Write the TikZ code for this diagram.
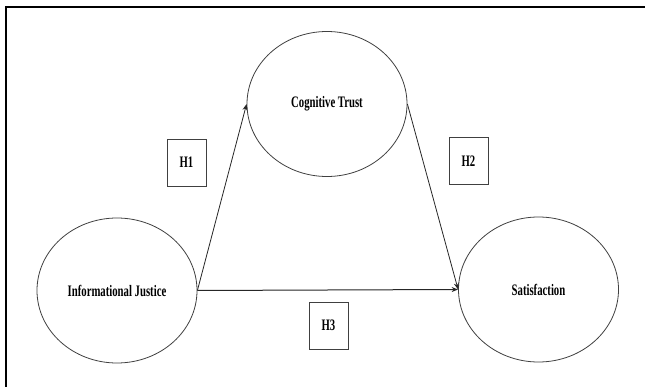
\documentclass[tikz,border=0pt]{standalone}
\usepackage{fontspec}
\usetikzlibrary{shapes.geometric,arrows.meta}
\newfontfamily\condfont[FakeStretch=0.67]{Liberation Serif}
\begin{document}
\begin{tikzpicture}[x=1pt,y=-1pt,
  latent/.style={ellipse,draw=black!75,line width=0.8pt,minimum width=160pt,minimum height=145pt,inner sep=0pt,
    font=\condfont\bfseries\fontsize{16}{19}\selectfont},
  hypbox/.style={rectangle,draw=black!75,line width=0.8pt,minimum width=39pt,minimum height=47pt,inner sep=0pt,
    font=\condfont\bfseries\fontsize{16}{19}\selectfont},
  path/.style={draw=black!85,line width=0.8pt,-{Stealth[length=6.5pt,width=5pt]}}]
\useasboundingbox (0,0) rectangle (645,387);
\fill[white] (0,0) rectangle (645,387);
\coordinate (fa) at (6,387);
\coordinate (fb) at (6,7);
\coordinate (fc) at (645,7);
\draw[line width=2.4pt,line cap=rect] (fa) -- (fb) -- (fc);
\node[latent] (ct) at (327,104) {Cognitive Trust};
\node[latent] (ij) at (117,290.5) {Informational Justice};
\node[latent] (sat) at (538.5,289.5) {Satisfaction};
\node[hypbox] (h1) at (186.5,162.5) {H1};
\node[hypbox] (h2) at (468.5,161) {H2};
\node[hypbox] (h3) at (328.5,325.5) {H3};
\draw[path] (ij.east) -- (ct.west);
\draw[path] (ct.east) -- (sat.west);
\draw[path,line width=1pt] (ij.east) -- (sat.west);
\end{tikzpicture}
\end{document}
